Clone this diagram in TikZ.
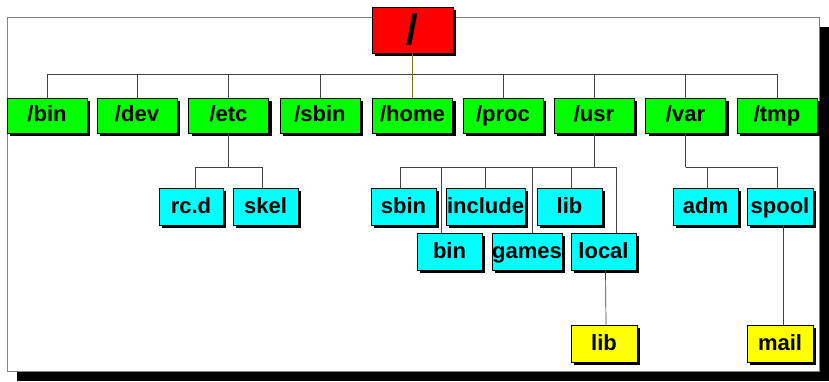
\documentclass[tikz,border=0pt]{standalone}
\usepackage{fontspec}
\setmainfont{Liberation Sans}
\usepackage{tikz}
\usetikzlibrary{shadows}
\definecolor{dirred}{RGB}{255,0,0}
\definecolor{dirgreen}{RGB}{0,255,0}
\definecolor{dircyan}{RGB}{0,255,255}
\definecolor{diryellow}{RGB}{255,255,0}

\begin{document}
\begin{tikzpicture}[x=1pt,y=-1pt,
	dirbox/.style={draw=black, line width=0.6pt, inner sep=0pt,
		minimum height=35pt, text height=16pt, text depth=3pt,
		font=\fontsize{22}{24}\selectfont\bfseries,
		drop shadow={shadow xshift=3pt, shadow yshift=-3pt, fill=black, opacity=1}},
	topdir/.style={dirbox, fill=dirgreen, minimum width=80pt},
	subdir/.style={dirbox, fill=dircyan, minimum height=37pt},
	leafdir/.style={dirbox, fill=diryellow, minimum height=37pt, minimum width=66pt},
	tree/.style={draw=black!75, line width=0.7pt},
	]
	\useasboundingbox (0,0) rectangle (829,382);
	\path[draw=black!50, line width=0.8pt, fill=white,
	drop shadow={shadow xshift=10pt, shadow yshift=-10pt, fill=black, opacity=1}]
	(7,17) rectangle (819,371);

	\node[dirbox, fill=dirred, minimum width=81pt, minimum height=46pt,
	text height=30pt, text depth=1pt,
	font=\fontsize{42}{44}\selectfont\bfseries] (root) at (412.5,30) {/};

	\node[topdir] (bin) at (47,115.5) {/bin};
	\node[topdir] (dev) at (137,115.5) {/dev};
	\node[topdir] (etc) at (228.5,115.5) {/etc};
	\node[topdir] (sbin) at (320,115.5) {/sbin};
	\node[topdir] (home) at (412.5,115.5) {/home};
	\node[topdir] (proc) at (503,115.5) {/proc};
	\node[topdir] (usr) at (594,115.5) {/usr};
	\node[topdir] (var) at (685.5,115.5) {/var};
	\node[topdir] (tmp) at (777,115.5) {/tmp};

	\node[subdir, minimum width=64pt] (rcd) at (191,206.5) {rc.d};
	\node[subdir, minimum width=65pt] (skel) at (265.5,206.5) {skel};

	\node[subdir, minimum width=65pt] (usbin) at (403.5,206.5) {sbin};
	\node[subdir, minimum width=79pt] (include) at (485.5,206.5) {include};
	\node[subdir, minimum width=65pt] (ulib) at (569.5,206.5) {lib};
	\node[subdir, minimum width=65pt] (ubin) at (449.5,251.5) {bin};
	\node[subdir, minimum width=70pt] (games) at (527,251.5) {games};
	\node[subdir, minimum width=65pt] (local) at (603.5,251.5) {local};
	\node[leafdir] (llib) at (604,343.5) {lib};

	\node[subdir, minimum width=65pt] (adm) at (705.5,206.5) {adm};
	\node[subdir, minimum width=66pt] (spool) at (780,206.5) {spool};
	\node[leafdir] (mail) at (780,343.5) {mail};

	% first level
	\draw[tree] (bin.north) -- ++(0,-23) coordinate (bus) -| (tmp.north);
	\foreach \d in {dev,etc,sbin,proc,usr,var}
		\draw[tree] (\d.north) -- (\d.north |- bus);
	\draw[draw=olive!80!black, line width=0.7pt] (root) -- (home);

	% /etc
	\draw[tree] (etc.south) -- ++(0,34) coordinate (etcbus);
	\draw[tree] ([xshift=4pt]rcd.north) |- (etcbus) -| ([xshift=-3pt]skel.north);

	% /usr
	\draw[tree] (usr.south) -- ++(0,34) coordinate (usrbus);
	\draw[tree] ([xshift=-3pt]usbin.north) |- (usrbus) -| ([xshift=13pt]local.north);
	\draw[tree] ([xshift=-8pt]ubin.north) -- ([xshift=-8pt]ubin.north |- usrbus);
	\draw[tree] (include.north) -- (include.north |- usrbus);
	\draw[tree] ([xshift=5pt]games.north) -- ([xshift=5pt]games.north |- usrbus);
	\draw[tree] ([xshift=2pt]ulib.north) -- ([xshift=2pt]ulib.north |- usrbus);
	\draw[tree] ([xshift=2pt]local.south) -- ([xshift=2pt]llib.north);

	% /var
	\draw[tree] (var.south) -- ++(0,34) coordinate (varbus);
	\draw[tree] ([xshift=2pt]adm.north) |- (varbus) -| ([xshift=-3pt]spool.north);
	\draw[tree] ([xshift=3pt]spool.south) -- ([xshift=3pt]mail.north);
\end{tikzpicture}
\end{document}
